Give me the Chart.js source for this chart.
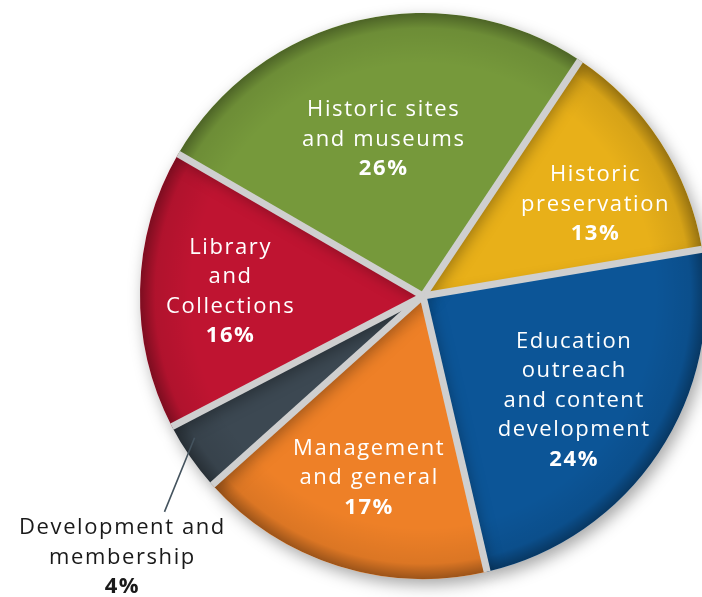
<!DOCTYPE html>
<html>
<head>
<meta charset="utf-8">
<script src="https://cdn.jsdelivr.net/npm/chart.js@4.4.1/dist/chart.umd.min.js"></script>
<style>
  html, body { margin: 0; padding: 0; background: #fff; overflow: hidden; }
  #wrap { width: 702px; height: 597px; overflow: hidden; position: relative; }
  canvas { position: absolute; left: 0; top: 0; }
</style>
</head>
<body>
<div id="wrap"><canvas id="pie" width="846" height="597"></canvas></div>
<script>
// dati (ordine in senso orario, partendo da "Historic preservation")
const categories = [
    ['Historic', 'preservation'],
    ['Education', 'outreach', 'and content', 'development'],
    ['Management', 'and general'],
    ['Development and', 'membership'],
    ['Library', 'and', 'Collections'],
    ['Historic sites', 'and museums']
];
const shares = [13, 24, 17, 4, 16, 26];
const sliceColors = ['#e8b019', '#0c5597', '#ee8027', '#3c4852', '#bf1431', '#76993b'];
// posizione etichette: distanza dal centro (frazione del raggio) e rotazione (gradi); null = esterna
const labelDist = [0.69, 0.65, 0.67, null, 0.68, 0.57];
const labelTurn = [5, 1, -1, 0, 0, -1];

const FONT = '"Open Sans", sans-serif';

const pieDecor = {
    id: 'pieDecor',
    beforeDatasetsDraw(chart) {
        const ctx = chart.ctx;
        ctx.save();
        ctx.shadowColor = 'rgba(0,0,0,0.35)';
        ctx.shadowBlur = 16;
        ctx.shadowOffsetX = 4;
        ctx.shadowOffsetY = 6;
    },
    afterDatasetsDraw(chart) {
        const ctx = chart.ctx;
        ctx.restore();
        const arcs = chart.getDatasetMeta(0).data;
        if (!arcs.length) return;
        const cx = arcs[0].x, cy = arcs[0].y, R = arcs[0].outerRadius;

        // bordo scuro (effetto rilievo)
        ctx.save();
        ctx.globalCompositeOperation = 'source-atop';
        const g = ctx.createRadialGradient(cx, cy, R * 0.82, cx, cy, R);
        g.addColorStop(0, 'rgba(0,0,0,0)');
        g.addColorStop(0.7, 'rgba(0,0,0,0.08)');
        g.addColorStop(1, 'rgba(0,0,0,0.35)');
        ctx.fillStyle = g;
        ctx.beginPath();
        ctx.arc(cx, cy, R, 0, Math.PI * 2);
        ctx.fill();
        ctx.restore();

        // separatori grigi tra le fette
        ctx.save();
        ctx.strokeStyle = '#cfcfcf';
        ctx.lineWidth = 7;
        arcs.forEach(arc => {
            ctx.beginPath();
            ctx.moveTo(cx, cy);
            ctx.lineTo(cx + Math.cos(arc.startAngle) * R, cy + Math.sin(arc.startAngle) * R);
            ctx.stroke();
        });
        ctx.restore();

        // etichette
        ctx.save();
        ctx.textAlign = 'center';
        ctx.textBaseline = 'middle';
        ctx.letterSpacing = '1.6px';
        const lh = 29.5;
        arcs.forEach((arc, i) => {
            const mid = (arc.startAngle + arc.endAngle) / 2;
            const lines = categories[i].concat([shares[i] + '%']);
            let x, y;
            if (labelDist[i] !== null) {
                const a = mid + labelTurn[i] * Math.PI / 180;
                const r = R * labelDist[i];
                x = cx + Math.cos(a) * r;
                y = cy + Math.sin(a) * r - (lines.length - 1) * lh / 2;
                ctx.fillStyle = '#ffffff';
            } else {
                // etichetta esterna con linea di richiamo
                const sx = cx + Math.cos(mid + 0.05) * R * 0.95;
                const sy = cy + Math.sin(mid + 0.05) * R * 0.95;
                const ex = cx + Math.cos(mid - 0.09) * R * 1.19;
                const ey = cy + Math.sin(mid - 0.09) * R * 1.19;
                ctx.strokeStyle = '#44535e';
                ctx.lineWidth = 1.6;
                ctx.beginPath();
                ctx.moveTo(sx, sy);
                ctx.lineTo(ex, ey);
                ctx.stroke();
                x = ex - 42;
                y = ey + 16;
                ctx.fillStyle = '#1a1a1a';
            }
            lines.forEach((t, k) => {
                const last = k === lines.length - 1;
                ctx.font = (last ? '700 ' : '400 ') + '22px ' + FONT;
                ctx.fillText(t, x, y + k * lh);
            });
        });
        ctx.restore();
    }
};

new Chart(document.getElementById('pie').getContext('2d'), {
    type: 'pie',
    data: {
        labels: categories.map(c => c.join(' ')),
        datasets: [{
            data: shares,
            backgroundColor: sliceColors,
            borderWidth: 0
        }]
    },
    options: {
        responsive: false,
        animation: false,
        rotation: 33.7,
        radius: 283,
        layout: { padding: { bottom: 5 } },
        plugins: {
            legend: { display: false },
            tooltip: { enabled: false }
        }
    },
    plugins: [pieDecor]
});
</script>
</body>
</html>
